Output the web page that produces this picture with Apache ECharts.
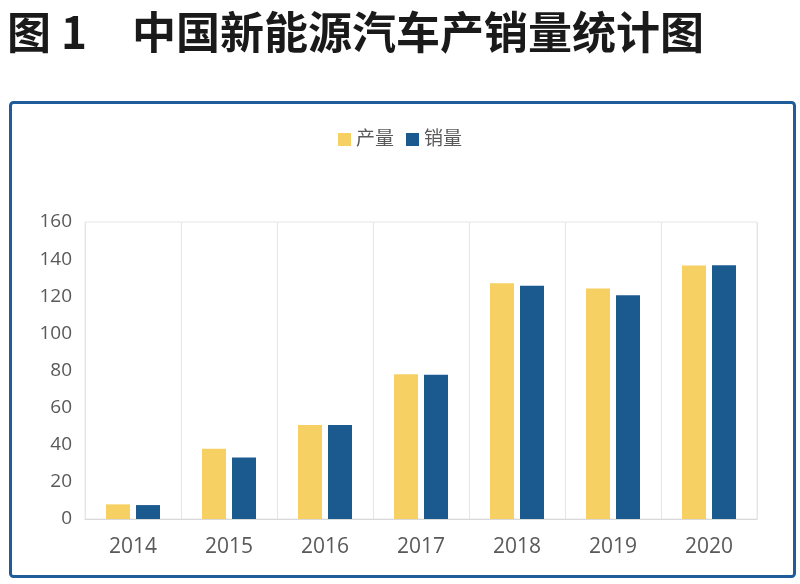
<!DOCTYPE html>
<html>
<head>
<meta charset="utf-8">
<script src="https://cdn.jsdelivr.net/npm/echarts@6/dist/echarts.min.js"></script>
<style>
html,body{margin:0;padding:0;background:#fff;}
#c{width:800px;height:584px;}
</style>
</head>
<body>
<div id="c"></div>
<script>
var years = ['2014','2015','2016','2017','2018','2019','2020'];
var production = [7.9, 37.8, 50.6, 78.0, 127.0, 124.2, 136.6];
var sales = [7.5, 33.1, 50.7, 77.7, 125.6, 120.6, 136.7];
var seriesNames = ['产量', '销量'];
var yTicks = {min: 0, max: 160, interval: 20};

var chart = echarts.init(document.getElementById('c'));
var font = '"Open Sans","Noto Sans CJK SC",sans-serif';
chart.setOption({
  backgroundColor: '#ffffff',
  animation: false,
  graphic: [
    {type: 'text', left: 7, top: 10, style: {text: '图 1', font: 'bold 44px "Noto Sans CJK SC"', fill: '#1a1a1a'}},
    {type: 'text', left: 132, top: 10, style: {text: '中国新能源汽车产销量统计图', font: 'bold 44px "Noto Sans CJK SC"', fill: '#1a1a1a'}},
    {type: 'rect', shape: {x: 10.5, y: 102.5, width: 784, height: 474, r: 3}, style: {fill: 'none', stroke: '#1F5C99', lineWidth: 3}}
  ],
  legend: {
    data: seriesNames,
    top: 125,
    left: 'center',
    itemWidth: 13,
    itemHeight: 13,
    itemGap: 12,
    icon: 'rect',
    textStyle: {fontSize: 19, color: '#595959', fontFamily: font}
  },
  grid: {left: 85, right: 43, top: 222, bottom: 65, show: true, borderColor: '#e6e6e6', borderWidth: 1},
  xAxis: {
    type: 'category',
    data: years,
    axisLine: {show: true, lineStyle: {color: '#d9d9d9', width: 1}},
    axisTick: {show: false},
    splitLine: {show: true, lineStyle: {color: '#e6e6e6', width: 1}},
    axisLabel: {fontSize: 21, color: '#595959', margin: 18, fontFamily: font}
  },
  yAxis: {
    type: 'value',
    min: yTicks.min, max: yTicks.max, interval: yTicks.interval,
    axisLine: {show: false},
    axisTick: {show: false},
    splitLine: {show: false},
    axisLabel: {fontSize: 19, color: '#595959', margin: 13, fontFamily: font}
  },
  series: [
    {name: seriesNames[0], type: 'bar', data: production, barWidth: 24, barGap: '25%', itemStyle: {color: '#F6D063'}},
    {name: seriesNames[1], type: 'bar', data: sales, barWidth: 24, barGap: '25%', itemStyle: {color: '#1A5A8F'}}
  ]
});
</script>
</body>
</html>
